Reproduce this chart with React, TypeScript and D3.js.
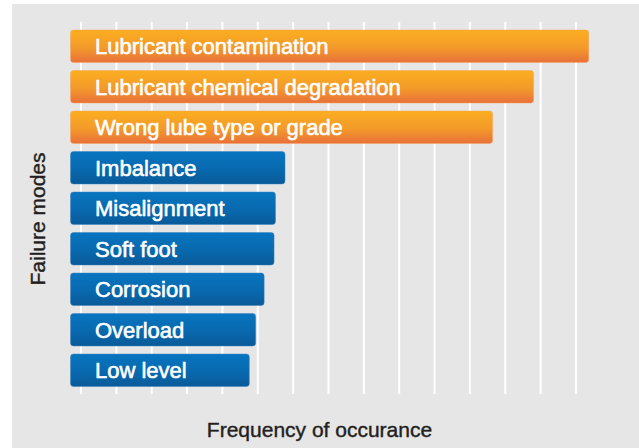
import React from "react";
import * as d3 from "d3";

const categories: string[] = [
  "Lubricant contamination",
  "Lubricant chemical degradation",
  "Wrong lube type or grade",
  "Imbalance",
  "Misalignment",
  "Soft foot",
  "Corrosion",
  "Overload",
  "Low level",
];
// frequency in grid units (estimated)
const frequency: number[] = [14.36, 12.8, 11.64, 5.77, 5.5, 5.46, 5.18, 4.94, 4.76];
// group: lubrication-related (orange) vs mechanical (blue)
const groups: string[] = ["lube", "lube", "lube", "mech", "mech", "mech", "mech", "mech", "mech"];
const gridTicks: number[] = d3.range(0, 15);
const xAxisTitle = "Frequency of occurance";
const yAxisTitle = "Failure modes";

const W = 639;
const H = 448;
const FONT = "'Liberation Sans', Arial, sans-serif";

export default function App() {
  const x = d3.scaleLinear().domain([0, 14]).range([81, 576]);
  const pad = 8 / 40.5;
  const y = d3
    .scaleBand<string>()
    .domain(categories)
    .range([30, 30 + 40.5 * (categories.length - pad)])
    .paddingInner(pad)
    .paddingOuter(0);
  const barStart = x(0) - 10.5;

  return (
    <svg
      width={W}
      height={H}
      style={{ position: "absolute", left: 0, top: 0, background: "#ffffff" }}
    >
      <defs>
        <linearGradient id="gOrange" x1="0" y1="0" x2="0" y2="1">
          <stop offset="0%" stopColor="#fbae20" />
          <stop offset="55%" stopColor="#f39a2a" />
          <stop offset="100%" stopColor="#e8703a" />
        </linearGradient>
        <linearGradient id="gBlue" x1="0" y1="0" x2="0" y2="1">
          <stop offset="0%" stopColor="#0875c0" />
          <stop offset="55%" stopColor="#0869ae" />
          <stop offset="100%" stopColor="#0a5a98" />
        </linearGradient>
      </defs>
      <rect x={12} y={4} width={W - 12} height={H - 4} fill="#e6e6e6" />
      {gridTicks.map((t) => (
        <line
          key={t}
          x1={x(t)}
          x2={x(t)}
          y1={22}
          y2={394}
          stroke="#ffffff"
          strokeWidth={2}
        />
      ))}
      {categories.map((c, i) => {
        const y0 = y(c) as number;
        const bw = y.bandwidth();
        return (
          <g key={c}>
            <rect
              x={barStart}
              y={y0}
              width={x(frequency[i]) - barStart}
              height={bw}
              rx={3}
              ry={3}
              fill={groups[i] === "lube" ? "url(#gOrange)" : "url(#gBlue)"}
              stroke={groups[i] === "lube" ? "#f7a35a" : "#3a82bd"}
              strokeOpacity={0.6}
              strokeWidth={0.8}
            />
            <text
              x={barStart + 24.5}
              y={y0 + bw / 2}
              dy="0.36em"
              fill="#ffffff"
              stroke="#ffffff"
              strokeWidth={0.6}
              fontFamily={FONT}
              fontSize={22}
            >
              {c}
            </text>
          </g>
        );
      })}
      <text
        x={319.5}
        y={437}
        textAnchor="middle"
        fill="#231f20"
        stroke="#231f20"
        strokeWidth={0.4}
        fontFamily={FONT}
        fontSize={21}
      >
        {xAxisTitle}
      </text>
      <text
        transform="translate(45,219) rotate(-90)"
        textAnchor="middle"
        fill="#231f20"
        stroke="#231f20"
        strokeWidth={0.4}
        fontFamily={FONT}
        fontSize={21}
      >
        {yAxisTitle}
      </text>
    </svg>
  );
}
